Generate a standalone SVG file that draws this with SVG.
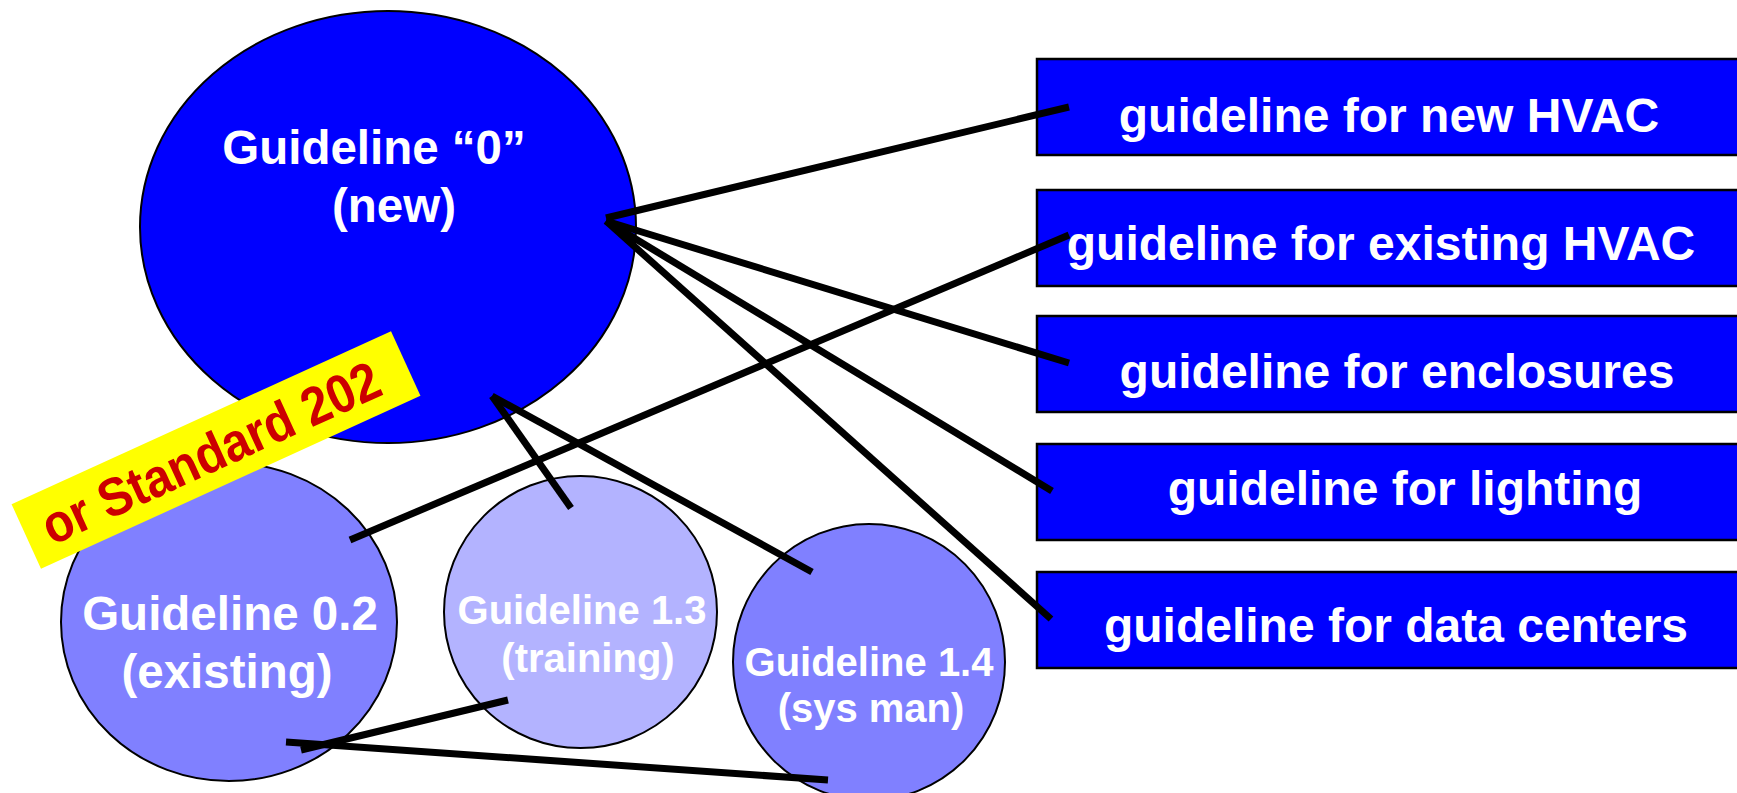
<svg xmlns="http://www.w3.org/2000/svg" width="1737" height="793" viewBox="0 0 1737 793">
  <style>
    .lbl { font-family: "Liberation Sans", Arial, sans-serif; font-weight: bold; fill: #ffffff; text-anchor: middle; }
    .big { font-size: 47.5px; }
    .mid { font-size: 47.5px; }
    .boxtxt { font-size: 48px; }
    .small { font-size: 40px; }
    .box { fill: #0000ff; stroke: #000000; stroke-width: 2.5; }
    .node { stroke: #000000; stroke-width: 2; }
    .conn line { stroke: #000000; stroke-width: 7; stroke-linecap: butt; }
  </style>
  <rect width="1737" height="793" fill="#ffffff"/>

  <!-- main guideline -->
  <g id="g0">
    <ellipse class="node" cx="388" cy="227" rx="248" ry="216" fill="#0000ff"/>
    <text class="lbl big" x="374" y="164">Guideline “0”</text>
    <text class="lbl big" x="394" y="222">(new)</text>
  </g>

  <g id="g02">
    <ellipse class="node" cx="229" cy="622" rx="168" ry="159" fill="#8080ff"/>
    <text class="lbl mid" x="230" y="630">Guideline 0.2</text>
    <text class="lbl mid" x="227" y="688">(existing)</text>
  </g>

  <g id="g13">
    <ellipse class="node" cx="580.5" cy="612" rx="136.5" ry="136" fill="#b3b3ff"/>
    <text class="lbl small" x="582" y="624">Guideline 1.3</text>
    <text class="lbl small" x="588" y="672">(training)</text>
  </g>

  <g id="g14">
    <ellipse class="node" cx="869" cy="662" rx="136" ry="138" fill="#8080ff"/>
    <text class="lbl small" x="869" y="676">Guideline 1.4</text>
    <text class="lbl small" x="871" y="722">(sys man)</text>
  </g>

  <!-- topic boxes -->
  <g id="newhvac">
    <rect class="box" x="1037" y="59" width="720" height="96"/>
    <text class="lbl boxtxt" x="1389" y="132">guideline for new HVAC</text>
  </g>
  <g id="existhvac">
    <rect class="box" x="1037" y="190" width="720" height="96"/>
    <text class="lbl boxtxt" x="1381" y="260">guideline for existing HVAC</text>
  </g>
  <g id="enclosures">
    <rect class="box" x="1037" y="316" width="720" height="96"/>
    <text class="lbl boxtxt" x="1397" y="388">guideline for enclosures</text>
  </g>
  <g id="lighting">
    <rect class="box" x="1037" y="444" width="720" height="96"/>
    <text class="lbl boxtxt" x="1405" y="505">guideline for lighting</text>
  </g>
  <g id="datacenters">
    <rect class="box" x="1037" y="572" width="720" height="96"/>
    <text class="lbl boxtxt" x="1396" y="642">guideline for data centers</text>
  </g>

  <!-- connectors -->
  <g id="connectors" class="conn">
    <line x1="606" y1="218" x2="1069" y2="107"/>
    <line x1="606" y1="221" x2="1069" y2="363"/>
    <line x1="606" y1="221" x2="1052" y2="491"/>
    <line x1="606" y1="221" x2="1051" y2="619"/>
    <line x1="350" y1="540" x2="1069" y2="235"/>
    <line x1="492" y1="396" x2="571" y2="508"/>
    <line x1="492" y1="396" x2="812" y2="572"/>
    <line x1="301" y1="750" x2="508" y2="700"/>
    <line x1="286" y1="742" x2="828" y2="780"/>
  </g>

  <!-- tilted note -->
  <g id="standard202" transform="translate(216 450) rotate(-24.5)">
    <rect x="-208.5" y="-35.5" width="417" height="71" fill="#ffff00"/>
    <text x="-6" y="19" font-family="Liberation Sans, Arial, sans-serif" font-weight="bold" font-size="54" fill="#cc0000" text-anchor="middle" textLength="366" lengthAdjust="spacingAndGlyphs">or Standard 202</text>
  </g>
</svg>
